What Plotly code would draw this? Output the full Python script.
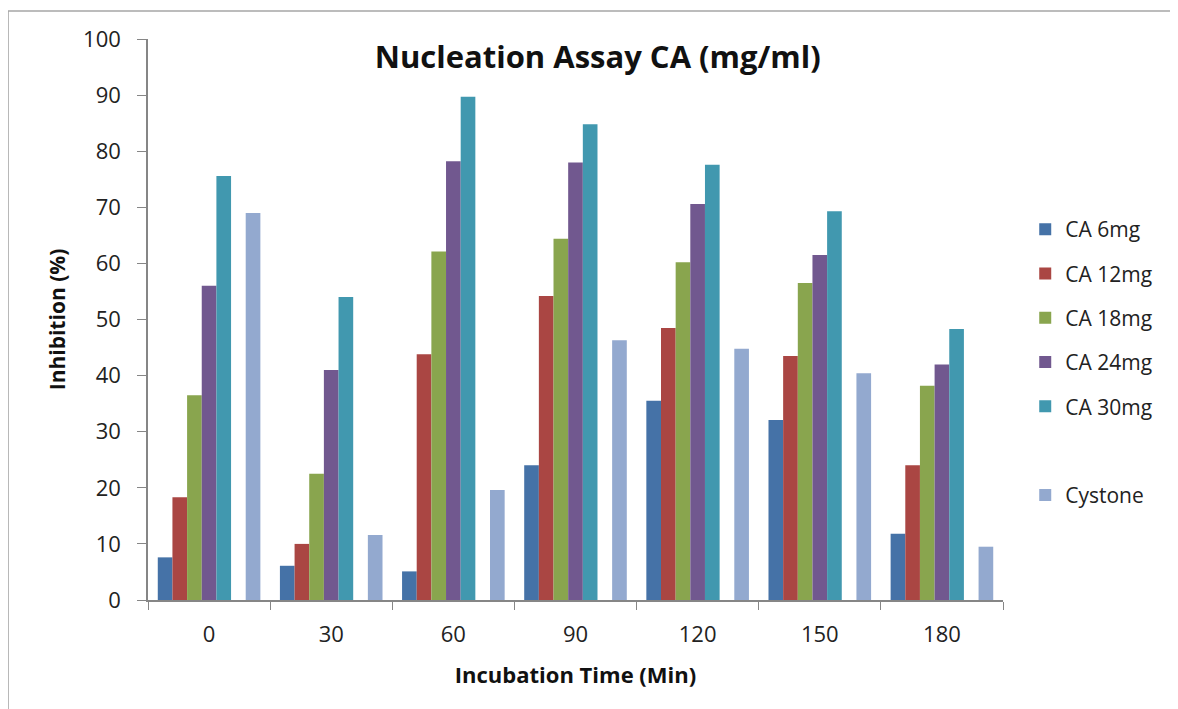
import plotly.graph_objects as go

categories = ["0", "30", "60", "90", "120", "150", "180"]
ca_6mg = [7.6, 6.1, 5.1, 24.0, 35.5, 32.1, 11.8]
ca_12mg = [18.3, 10.0, 43.8, 54.2, 48.5, 43.5, 24.0]
ca_18mg = [36.5, 22.5, 62.1, 64.4, 60.2, 56.5, 38.2]
ca_24mg = [56.0, 41.0, 78.2, 78.0, 70.6, 61.5, 42.0]
ca_30mg = [75.6, 54.0, 89.7, 84.8, 77.6, 69.3, 48.3]
blank = [None] * 7
cystone = [69.0, 11.6, 19.6, 46.3, 44.8, 40.4, 9.5]

series = [
    ("CA 6mg", ca_6mg, "#4572A7"),
    ("CA 12mg", ca_12mg, "#AA4643"),
    ("CA 18mg", ca_18mg, "#89A54E"),
    ("CA 24mg", ca_24mg, "#71588F"),
    ("CA 30mg", ca_30mg, "#4198AF"),
    (" ", blank, "rgba(0,0,0,0)"),
    ("Cystone", cystone, "#93A9CF"),
]

FONT = "'Open Sans', Lato, sans-serif"

fig = go.Figure()
for i, (name, vals, color) in enumerate(series):
    fig.add_trace(go.Bar(
        x=categories, y=vals, name=name,
        marker=dict(color=color, line=dict(width=0)),
        legendgroup=f"g{i}",
    ))

fig.update_layout(
    width=1178, height=709,
    margin=dict(l=140, r=183, t=31, b=117),
    paper_bgcolor="white", plot_bgcolor="white",
    barmode="group", bargap=0.16, bargroupgap=0,
    font=dict(family=FONT, color="#222222"),
    title=dict(text="<b>Nucleation Assay CA (mg/ml)</b>", x=0.526, xanchor="center", xref="paper",
               y=0.93, yanchor="middle", font=dict(size=31, color="#111111")),
    legend=dict(x=1.026, y=0.697, xanchor="left", yanchor="top",
                font=dict(size=21, color="#222222"), tracegroupgap=14,
                traceorder="grouped", itemwidth=30),
    showlegend=True,
    xaxis=dict(
        type="category",
        showline=True, linecolor="#868686", linewidth=1.5,
        ticks="outside", tickson="boundaries", ticklen=8, tickcolor="#868686",
        tickfont=dict(size=22, color="#222222"), ticklabelstandoff=14,
        title=dict(text="<b>Incubation Time (Min)</b>", font=dict(size=22, color="#111111"), standoff=20),
        showgrid=False,
    ),
    yaxis=dict(
        range=[0, 100], dtick=10,
        showline=True, linecolor="#868686", linewidth=1.5,
        ticks="outside", ticklen=9, tickcolor="#868686",
        tickfont=dict(size=22, color="#222222"), ticklabelstandoff=12,
        title=dict(text="<b>Inhibition (%)</b>", font=dict(size=21, color="#111111"), standoff=12),
        showgrid=False, zeroline=False,
    ),
    shapes=[dict(type="rect", xref="paper", yref="paper",
                 x0=-0.1637, x1=1.4, y0=-0.3, y1=1.05,
                 line=dict(color="#a6a6a6", width=1.5), layer="below")],
)

fig.write_html("out.html")
